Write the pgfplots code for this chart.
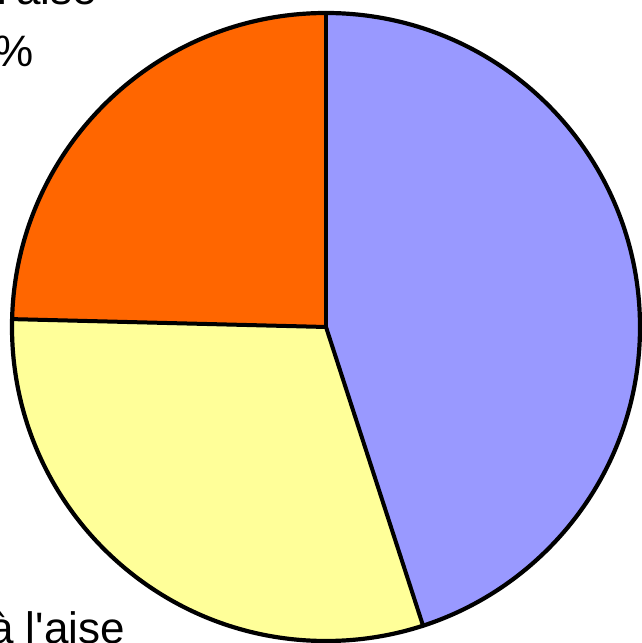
\documentclass[border=0pt]{standalone}
\usepackage{pgfplots}
\pgfplotsset{compat=1.18}
\usepackage{pgfplotstable}
\usepackage{fontspec}
\setmainfont{Liberation Sans}[Ligatures=TeXOff]

\definecolor{sliceblue}{HTML}{9999FF}
\definecolor{sliceyellow}{HTML}{FFFF99}
\definecolor{sliceorange}{HTML}{FF6600}

% shares in percent, clockwise from 12 o'clock
\pgfplotstableread{
share
45.0
30.4
24.6
}\piedata

\begin{document}
\begin{tikzpicture}
\useasboundingbox (0,0) rectangle (642pt,643pt);
\clip (0,0) rectangle (642pt,643pt);
% angles from the table
\pgfplotstablegetelem{0}{share}\of\piedata
\pgfmathsetmacro\angA{90-3.6*\pgfplotsretval}
\pgfplotstablegetelem{1}{share}\of\piedata
\pgfmathsetmacro\angB{\angA-3.6*\pgfplotsretval}
\pgfplotstablegetelem{2}{share}\of\piedata
\pgfmathsetmacro\angC{\angB-3.6*\pgfplotsretval}
\begin{axis}[
    hide axis,
    scale only axis,
    width=642pt, height=643pt,
    xmin=0, xmax=642, ymin=0, ymax=643,
    clip=false
]
\def\cx{326}\def\cy{316}\def\R{314pt}
\fill[sliceblue] (axis cs:\cx,\cy) -- ++(90:\R) arc[start angle=90, end angle=\angA, radius=\R] -- cycle;
\fill[sliceyellow] (axis cs:\cx,\cy) -- ++(\angA:\R) arc[start angle=\angA, end angle=\angB, radius=\R] -- cycle;
\fill[sliceorange] (axis cs:\cx,\cy) -- ++(\angB:\R) arc[start angle=\angB, end angle=\angC, radius=\R] -- cycle;
\draw[line width=4.2pt] (axis cs:\cx,\cy) circle[radius=\R];
\draw[line width=4pt, line cap=round] (axis cs:\cx,\cy) -- ++(90:\R);
\draw[line width=4pt, line cap=round] (axis cs:\cx,\cy) -- ++(\angA:\R);
\draw[line width=4pt, line cap=round] (axis cs:\cx,\cy) -- ++(\angB:\R);
\node[anchor=base east, inner sep=0pt, font=\fontsize{44}{52}\selectfont] at (axis cs:97,638) {Mal à l'aise};
\node[anchor=base east, inner sep=0pt, font=\fontsize{44}{52}\selectfont] at (axis cs:34,576) {25 \%};
\node[anchor=base east, inner sep=0pt, font=\fontsize{44}{52}\selectfont] at (axis cs:125,-1) {Très à l'aise};
\end{axis}
\end{tikzpicture}
\end{document}
